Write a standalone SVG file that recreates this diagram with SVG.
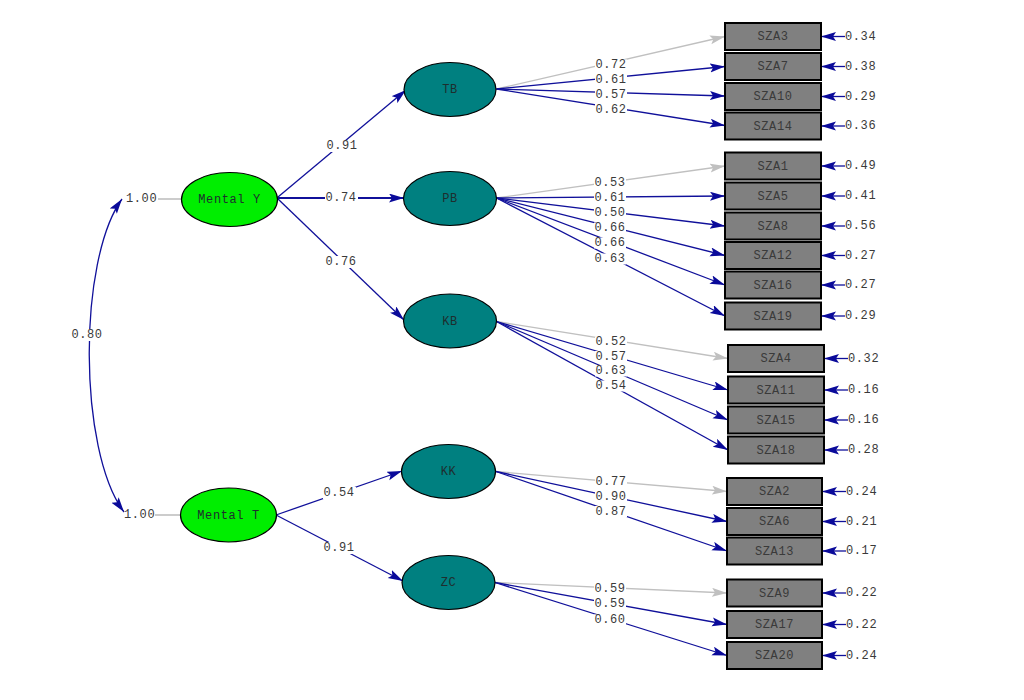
<svg xmlns="http://www.w3.org/2000/svg" width="1024" height="700" viewBox="0 0 1024 700">
<style>
text{font-family:"Liberation Mono","DejaVu Sans Mono",monospace;font-size:12px;letter-spacing:0.6px;fill:#3a3a3a;dominant-baseline:central}
.c{text-anchor:middle}
.s{text-anchor:start}
.ln{stroke:#10109a;stroke-width:1.3;fill:none;marker-end:url(#ah)}
.lg{stroke:#c0c0c0;stroke-width:1.3;fill:none;marker-end:url(#ag)}
.box{fill:#808080;stroke:#000;stroke-width:2}
.lat{fill:#008080;stroke:#000;stroke-width:1.2}
.ext{fill:#00ee00;stroke:#000;stroke-width:1.2}
.bg{fill:#fff}
.nt{fill:#1e2e2e}
</style>
<defs>
<marker id="ah" markerUnits="userSpaceOnUse" markerWidth="16" markerHeight="10" refX="15" refY="4.5" orient="auto"><path d="M0,0 L15,4.5 L0,9 L3,4.5 z" fill="#0a0a9a"/></marker>
<marker id="ag" markerUnits="userSpaceOnUse" markerWidth="16" markerHeight="10" refX="15" refY="4.5" orient="auto"><path d="M0,0 L15,4.5 L0,9 L3,4.5 z" fill="#c0c0c0"/></marker>
<marker id="as" markerUnits="userSpaceOnUse" markerWidth="16" markerHeight="10" refX="15" refY="4.5" orient="auto-start-reverse"><path d="M0,0 L15,4.5 L0,9 L3,4.5 z" fill="#0a0a9a"/></marker>
</defs>
<rect width="1024" height="700" fill="#fff"/>

<g id="connectors">
<path d="M122,199 C78,260 78,450 124,512" stroke="#10109a" stroke-width="1.3" fill="none" marker-start="url(#as)" marker-end="url(#ah)"/>
<line x1="158" y1="199" x2="182" y2="199" stroke="#b0b0b0" stroke-width="1.3"/>
<line x1="155" y1="515" x2="180" y2="515" stroke="#b0b0b0" stroke-width="1.3"/>
<line class="ln" x1="278" y1="197" x2="406" y2="90"/>
<line class="ln" x1="278" y1="198" x2="404" y2="198" style="stroke-width:2"/>
<line class="ln" x1="278" y1="199" x2="404" y2="320"/>
<line class="ln" x1="276" y1="515" x2="402" y2="471"/>
<line class="ln" x1="276" y1="515" x2="403" y2="581"/>
<line class="lg" x1="496.5" y1="89" x2="725" y2="36.5"/>
<line class="ln" x1="496.5" y1="89" x2="725" y2="66.5"/>
<line class="ln" x1="496.5" y1="89" x2="725" y2="96"/>
<line class="ln" x1="496.5" y1="89" x2="725" y2="125.5"/>
<line class="lg" x1="496.5" y1="198" x2="725" y2="166"/>
<line class="ln" x1="496.5" y1="198" x2="725" y2="196"/>
<line class="ln" x1="496.5" y1="198" x2="725" y2="226"/>
<line class="ln" x1="496.5" y1="198" x2="725" y2="255.5"/>
<line class="ln" x1="496.5" y1="198" x2="725" y2="285"/>
<line class="ln" x1="496.5" y1="198" x2="725" y2="316"/>
<line class="lg" x1="496.5" y1="321.5" x2="728" y2="358.5"/>
<line class="ln" x1="496.5" y1="321.5" x2="728" y2="390"/>
<line class="ln" x1="496.5" y1="321.5" x2="728" y2="420"/>
<line class="ln" x1="496.5" y1="321.5" x2="728" y2="450"/>
<line class="lg" x1="496" y1="471.5" x2="727" y2="491.5"/>
<line class="ln" x1="496" y1="471.5" x2="727" y2="521.5"/>
<line class="ln" x1="496" y1="471.5" x2="727" y2="551"/>
<line class="lg" x1="495" y1="582.5" x2="727" y2="593"/>
<line class="ln" x1="495" y1="582.5" x2="727" y2="624.5"/>
<line class="ln" x1="495" y1="582.5" x2="727" y2="655.5"/>
<g>
<line class="ln" x1="845" y1="36.5" x2="821" y2="36.5"/>
<line class="ln" x1="845" y1="66.5" x2="821" y2="66.5"/>
<line class="ln" x1="845" y1="96.5" x2="821" y2="96.5"/>
<line class="ln" x1="845" y1="126" x2="821" y2="126"/>
<line class="ln" x1="845" y1="166" x2="821" y2="166"/>
<line class="ln" x1="845" y1="196" x2="821" y2="196"/>
<line class="ln" x1="845" y1="226" x2="821" y2="226"/>
<line class="ln" x1="845" y1="255.5" x2="821" y2="255.5"/>
<line class="ln" x1="845" y1="285" x2="821" y2="285"/>
<line class="ln" x1="845" y1="316" x2="821" y2="316"/>
<line class="ln" x1="848" y1="358.5" x2="824" y2="358.5"/>
<line class="ln" x1="848" y1="390" x2="824" y2="390"/>
<line class="ln" x1="848" y1="420" x2="824" y2="420"/>
<line class="ln" x1="848" y1="450" x2="824" y2="450"/>
<line class="ln" x1="846" y1="491.5" x2="822" y2="491.5"/>
<line class="ln" x1="846" y1="521.5" x2="822" y2="521.5"/>
<line class="ln" x1="846" y1="551" x2="822" y2="551"/>
<line class="ln" x1="846" y1="593" x2="822" y2="593"/>
<line class="ln" x1="846" y1="624.5" x2="822" y2="624.5"/>
<line class="ln" x1="846" y1="655.5" x2="822" y2="655.5"/>
</g>
<g>
<rect class="bg" x="70" y="329" width="34" height="12"/><text class="c" x="87" y="335">0.80</text>
<text class="s" x="126" y="199">1.00</text>
<text class="s" x="124" y="515">1.00</text>
<rect class="bg" x="326" y="140" width="33" height="12"/><text class="c" x="342" y="146">0.91</text>
<rect class="bg" x="325" y="192" width="33" height="12"/><text class="c" x="341" y="198">0.74</text>
<rect class="bg" x="325" y="256" width="33" height="12"/><text class="c" x="341" y="262">0.76</text>
<rect class="bg" x="323" y="487" width="33" height="12"/><text class="c" x="339" y="493">0.54</text>
<rect class="bg" x="323" y="542" width="33" height="12"/><text class="c" x="339" y="548">0.91</text>

<rect class="bg" x="595" y="59.5" width="32" height="11"/><text class="c" x="611" y="65">0.72</text>
<rect class="bg" x="595" y="74" width="32" height="11"/><text class="c" x="611" y="79.5">0.61</text>
<rect class="bg" x="595" y="89" width="32" height="11"/><text class="c" x="611" y="94.5">0.57</text>
<rect class="bg" x="595" y="104" width="32" height="11"/><text class="c" x="611" y="109.5">0.62</text>

<rect class="bg" x="594" y="177.5" width="32" height="11"/><text class="c" x="610" y="183">0.53</text>
<rect class="bg" x="594" y="192.5" width="32" height="11"/><text class="c" x="610" y="198">0.61</text>
<rect class="bg" x="594" y="207.5" width="32" height="11"/><text class="c" x="610" y="213">0.50</text>
<rect class="bg" x="594" y="222.5" width="32" height="11"/><text class="c" x="610" y="228">0.66</text>
<rect class="bg" x="594" y="237.5" width="32" height="11"/><text class="c" x="610" y="243">0.66</text>
<rect class="bg" x="594" y="253.5" width="32" height="11"/><text class="c" x="610" y="259">0.63</text>

<rect class="bg" x="595" y="336.5" width="32" height="11"/><text class="c" x="611" y="342">0.52</text>
<rect class="bg" x="595" y="351" width="32" height="11"/><text class="c" x="611" y="356.5">0.57</text>
<rect class="bg" x="595" y="365.5" width="32" height="11"/><text class="c" x="611" y="371">0.63</text>
<rect class="bg" x="595" y="380.5" width="32" height="11"/><text class="c" x="611" y="386">0.54</text>

<rect class="bg" x="595" y="476.5" width="32" height="11"/><text class="c" x="611" y="482">0.77</text>
<rect class="bg" x="595" y="491" width="32" height="11"/><text class="c" x="611" y="496.5">0.90</text>
<rect class="bg" x="595" y="506" width="32" height="11"/><text class="c" x="611" y="511.5">0.87</text>

<rect class="bg" x="594" y="583" width="32" height="11"/><text class="c" x="610" y="588.5">0.59</text>
<rect class="bg" x="594" y="598" width="32" height="11"/><text class="c" x="610" y="603.5">0.59</text>
<rect class="bg" x="594" y="614.5" width="32" height="11"/><text class="c" x="610" y="620">0.60</text>

<text class="s" x="845" y="36.5">0.34</text>
<text class="s" x="845" y="66.5">0.38</text>
<text class="s" x="845" y="96.5">0.29</text>
<text class="s" x="845" y="126">0.36</text>
<text class="s" x="845" y="166">0.49</text>
<text class="s" x="845" y="196">0.41</text>
<text class="s" x="845" y="226">0.56</text>
<text class="s" x="845" y="255.5">0.27</text>
<text class="s" x="845" y="285">0.27</text>
<text class="s" x="845" y="316">0.29</text>
<text class="s" x="848" y="358.5">0.32</text>
<text class="s" x="848" y="390">0.16</text>
<text class="s" x="848" y="420">0.16</text>
<text class="s" x="848" y="450">0.28</text>
<text class="s" x="846" y="491.5">0.24</text>
<text class="s" x="846" y="521.5">0.21</text>
<text class="s" x="846" y="551">0.17</text>
<text class="s" x="846" y="593">0.22</text>
<text class="s" x="846" y="624.5">0.22</text>
<text class="s" x="846" y="655.5">0.24</text>
</g>
</g>

<g id="MentalY"><ellipse class="ext" cx="229.5" cy="199.5" rx="48" ry="27"/><text class="c nt" x="229.5" y="200">Mental Y</text></g>
<g id="MentalT"><ellipse class="ext" cx="228.5" cy="515" rx="48" ry="27"/><text class="c nt" x="228.5" y="516">Mental T</text></g>
<g id="TB"><ellipse class="lat" cx="450" cy="89.5" rx="46" ry="27"/><text class="c nt" x="450" y="90">TB</text></g>
<g id="PB"><ellipse class="lat" cx="450" cy="198.5" rx="46.5" ry="27"/><text class="c nt" x="450" y="199">PB</text></g>
<g id="KB"><ellipse class="lat" cx="450" cy="321" rx="46.5" ry="27"/><text class="c nt" x="450" y="322">KB</text></g>
<g id="KK"><ellipse class="lat" cx="448.5" cy="471.5" rx="47" ry="27"/><text class="c nt" x="448.5" y="472">KK</text></g>
<g id="ZC"><ellipse class="lat" cx="448.5" cy="582.5" rx="46.5" ry="27"/><text class="c nt" x="448.5" y="583">ZC</text></g>

<g id="SZA3"><rect class="box" x="725" y="23" width="96" height="27"/><text class="c" x="773" y="37">SZA3</text></g>
<g id="SZA7"><rect class="box" x="725" y="53" width="96" height="27"/><text class="c" x="773" y="67">SZA7</text></g>
<g id="SZA10"><rect class="box" x="725" y="83" width="96" height="27"/><text class="c" x="773" y="97">SZA10</text></g>
<g id="SZA14"><rect class="box" x="725" y="112.5" width="96" height="27"/><text class="c" x="773" y="126.5">SZA14</text></g>
<g id="SZA1"><rect class="box" x="725" y="152.5" width="96" height="27"/><text class="c" x="773" y="166.5">SZA1</text></g>
<g id="SZA5"><rect class="box" x="725" y="182.5" width="96" height="27"/><text class="c" x="773" y="196.5">SZA5</text></g>
<g id="SZA8"><rect class="box" x="725" y="212.5" width="96" height="27"/><text class="c" x="773" y="226.5">SZA8</text></g>
<g id="SZA12"><rect class="box" x="725" y="242" width="96" height="27"/><text class="c" x="773" y="256">SZA12</text></g>
<g id="SZA16"><rect class="box" x="725" y="271.5" width="96" height="27"/><text class="c" x="773" y="285.5">SZA16</text></g>
<g id="SZA19"><rect class="box" x="725" y="302.5" width="96" height="27"/><text class="c" x="773" y="316.5">SZA19</text></g>
<g id="SZA4"><rect class="box" x="728" y="345" width="96" height="27"/><text class="c" x="776" y="359">SZA4</text></g>
<g id="SZA11"><rect class="box" x="728" y="376.5" width="96" height="27"/><text class="c" x="776" y="390.5">SZA11</text></g>
<g id="SZA15"><rect class="box" x="728" y="406.5" width="96" height="27"/><text class="c" x="776" y="420.5">SZA15</text></g>
<g id="SZA18"><rect class="box" x="728" y="436.5" width="96" height="27"/><text class="c" x="776" y="450.5">SZA18</text></g>
<g id="SZA2"><rect class="box" x="727" y="478" width="95" height="27"/><text class="c" x="774.5" y="492">SZA2</text></g>
<g id="SZA6"><rect class="box" x="727" y="508" width="95" height="27"/><text class="c" x="774.5" y="522">SZA6</text></g>
<g id="SZA13"><rect class="box" x="727" y="537.5" width="95" height="27"/><text class="c" x="774.5" y="551.5">SZA13</text></g>
<g id="SZA9"><rect class="box" x="727" y="579.5" width="95" height="27"/><text class="c" x="774.5" y="593.5">SZA9</text></g>
<g id="SZA17"><rect class="box" x="727" y="611" width="95" height="27"/><text class="c" x="774.5" y="625">SZA17</text></g>
<g id="SZA20"><rect class="box" x="727" y="642" width="95" height="27"/><text class="c" x="774.5" y="656">SZA20</text></g>
</svg>
